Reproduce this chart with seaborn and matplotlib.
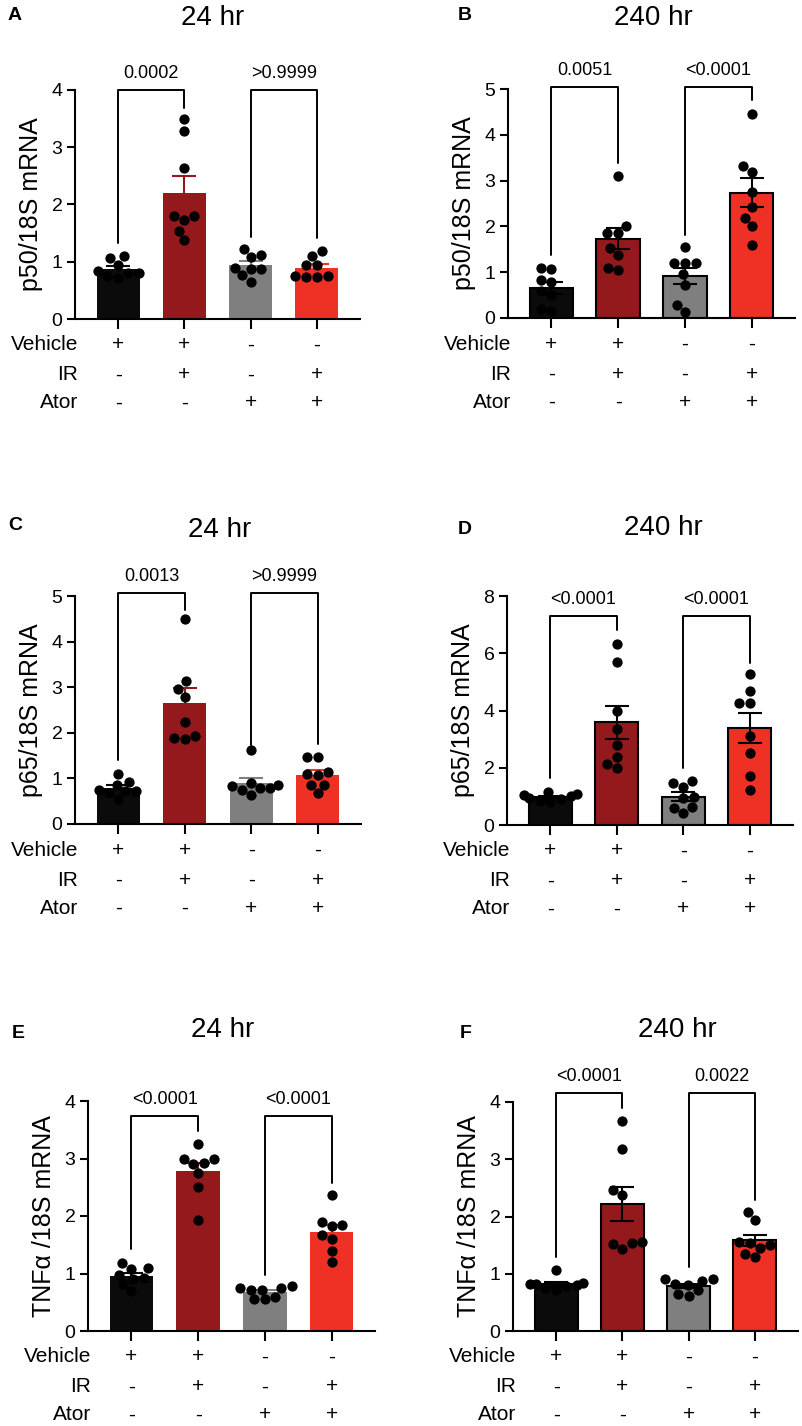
import numpy as np
import pandas as pd
import seaborn as sns
import matplotlib.pyplot as plt
import matplotlib.transforms as mtransforms

sns.set_style('ticks')
plt.rcParams['font.family'] = ['Liberation Sans', 'DejaVu Sans']
plt.rcParams['text.color'] = 'black'
plt.rcParams['axes.labelcolor'] = 'black'
plt.rcParams['axes.edgecolor'] = 'black'
plt.rcParams['xtick.color'] = 'black'
plt.rcParams['ytick.color'] = 'black'

# groups and table of treatments
groups = ['Vehicle', 'Vehicle+IR', 'Ator', 'Ator+IR']
colors = ['#0b0b0b', '#94191d', '#7f7f7f', '#ee3124']
row_names = ['Vehicle', 'IR', 'Ator']
vehicle_row = ['+', '+', '-', '-']
ir_row = ['-', '+', '-', '+']
ator_row = ['-', '-', '+', '+']

# values (8 animals per group)
p50_24 = [[1.06, 1.10, 0.80, 0.72, 0.95, 0.83, 0.80, 0.75],
          [3.49, 3.29, 2.63, 1.80, 1.80, 1.73, 1.54, 1.38],
          [1.23, 1.09, 1.11, 0.88, 0.88, 0.89, 0.76, 0.65],
          [1.18, 1.10, 0.94, 0.94, 0.73, 0.75, 0.75, 0.73]]
p50_240 = [[1.08, 1.10, 0.82, 0.78, 0.58, 0.50, 0.20, 0.15],
           [3.10, 2.00, 1.85, 1.85, 1.53, 1.38, 1.05, 1.09],
           [1.55, 1.21, 1.21, 1.21, 0.95, 0.73, 0.29, 0.13],
           [4.45, 3.31, 3.18, 2.76, 2.43, 2.18, 2.01, 1.60]]
p65_24 = [[1.10, 0.93, 0.86, 0.75, 0.72, 0.72, 0.68, 0.55],
          [4.49, 3.13, 2.97, 2.79, 2.24, 1.94, 1.86, 1.88],
          [1.62, 0.90, 0.85, 0.83, 0.79, 0.78, 0.75, 0.64],
          [1.46, 1.47, 1.15, 1.08, 1.10, 0.86, 0.85, 0.68]]
p65_240 = [[1.10, 1.15, 1.05, 1.00, 0.95, 0.90, 0.85, 0.80],
           [6.34, 5.70, 3.98, 3.37, 2.79, 2.38, 2.13, 1.98],
           [1.55, 1.45, 1.34, 0.99, 0.95, 0.64, 0.41, 0.60],
           [5.26, 4.67, 4.27, 4.27, 3.10, 2.53, 1.72, 1.24]]
tnf_24 = [[1.18, 1.09, 1.08, 0.98, 0.93, 0.90, 0.82, 0.70],
          [3.26, 2.91, 3.00, 2.93, 3.00, 2.75, 2.51, 1.93],
          [0.78, 0.75, 0.75, 0.72, 0.72, 0.60, 0.55, 0.55],
          [2.36, 1.90, 1.84, 1.83, 1.67, 1.60, 1.39, 1.20]]
tnf_240 = [[1.07, 0.83, 0.82, 0.82, 0.80, 0.78, 0.75, 0.72],
           [3.67, 3.18, 2.47, 2.37, 1.55, 1.53, 1.52, 1.44],
           [0.90, 0.90, 0.88, 0.82, 0.80, 0.72, 0.65, 0.62],
           [2.08, 1.94, 1.53, 1.55, 1.50, 1.45, 1.35, 1.29]]

# p values and bracket heights (top, left leg end, right leg end)
pvals = [['0.0002', '>0.9999'], ['0.0051', '<0.0001'],
         ['0.0013', '>0.9999'], ['<0.0001', '<0.0001'],
         ['<0.0001', '<0.0001'], ['<0.0001', '0.0022']]
bracket_tops = [4.0, 5.05, 5.07, 7.29, 3.74, 4.15]
bracket_legs = [[(1.32, 3.69), (1.43, 1.41)],
                [(1.38, 3.38), (1.82, 4.76)],
                [(1.41, 4.69), (1.73, 1.75)],
                [(1.63, 6.80), (2.00, 5.67)],
                [(1.42, 3.48), (0.98, 2.58)],
                [(1.29, 3.90), (1.12, 2.28)]]

W, H = 802, 1426
panels = [
    dict(vals=p50_24, ylabel='p50/18S mRNA', title='24 hr', letter='A', ymax=4, step=1,
         outlined=False, box=(75, 90, 360, 319), title_xy=(213, 18), letter_xy=(15, 15)),
    dict(vals=p50_240, ylabel='p50/18S mRNA', title='240 hr', letter='B', ymax=5, step=1,
         outlined=True, box=(508, 89, 795, 318), title_xy=(653, 18), letter_xy=(465, 15)),
    dict(vals=p65_24, ylabel='p65/18S mRNA', title='24 hr', letter='C', ymax=5, step=1,
         outlined=False, box=(75, 596, 361, 824), title_xy=(220, 530), letter_xy=(15, 525)),
    dict(vals=p65_240, ylabel='p65/18S mRNA', title='240 hr', letter='D', ymax=8, step=2,
         outlined=True, box=(507, 596, 793, 825), title_xy=(663, 528), letter_xy=(465, 530)),
    dict(vals=tnf_24, ylabel='TNFα /18S mRNA', title='24 hr', letter='E', ymax=4, step=1,
         outlined=False, box=(88, 1101, 375, 1331), title_xy=(223, 1030), letter_xy=(18, 1033)),
    dict(vals=tnf_240, ylabel='TNFα /18S mRNA', title='240 hr', letter='F', ymax=4, step=1,
         outlined=True, box=(513, 1102, 798, 1331), title_xy=(677, 1030), letter_xy=(466, 1033)),
]

fig = plt.figure(figsize=(W / 100, H / 100), dpi=100)
fig.patch.set_facecolor('white')

for k, p in enumerate(panels):
    l, t, r, b = p['box']
    ax = fig.add_axes([l / W, 1 - b / H, (r - l) / W, (b - t) / H])
    df = pd.DataFrame({'group': np.repeat(groups, 8),
                       'value': np.concatenate(p['vals'])})

    sns.barplot(data=df, x='group', y='value', hue='group', palette=colors,
                errorbar=None, width=0.65, saturation=1, legend=False,
                edgecolor='black' if p['outlined'] else 'none',
                linewidth=1.5 if p['outlined'] else 0, ax=ax, zorder=2)

    stats = df.groupby('group', sort=False)['value'].agg(['mean', 'sem'])
    for i, g in enumerate(groups):
        ax.errorbar(i, stats.loc[g, 'mean'], yerr=stats.loc[g, 'sem'], fmt='none',
                    ecolor='black' if p['outlined'] else colors[i],
                    elinewidth=1.5, capsize=8.5, capthick=1.5, zorder=3)

    sns.swarmplot(data=df, x='group', y='value', color='black', size=7.4,
                  ax=ax, zorder=4)

    ax.set_xlim(-0.65, 3.65)
    ax.set_ylim(0, p['ymax'])
    ax.set_yticks(np.arange(0, p['ymax'] + 0.01, p['step']))
    ax.set_xticklabels([])
    ax.set_xlabel('')
    ax.set_ylabel(p['ylabel'], fontsize=18, labelpad=6)
    sns.despine(ax=ax)
    for s in ['left', 'bottom']:
        ax.spines[s].set_linewidth(1.5)
    ax.tick_params(axis='y', labelsize=14, length=6, width=1.5, pad=3)
    ax.tick_params(axis='x', length=7, width=1.5)

    # significance brackets
    top = bracket_tops[k]
    for j, (x0, x1) in enumerate([(0, 1), (2, 3)]):
        y0, y1 = bracket_legs[k][j]
        ax.plot([x0, x0, x1, x1], [y0, top, top, y1], color='black', lw=1.4,
                clip_on=False, zorder=5)
        ax.annotate(pvals[k][j], xy=((x0 + x1) / 2, top), xytext=(0, 12),
                    textcoords='offset points', ha='center', va='center',
                    fontsize=13, annotation_clip=False)

    # treatment table under the x axis
    base = mtransforms.blended_transform_factory(ax.transData, ax.transAxes)
    lab_base = mtransforms.blended_transform_factory(ax.transAxes, ax.transAxes)
    for rname, signs, off in zip(row_names, [vehicle_row, ir_row, ator_row], [26, 56, 84]):
        tr = mtransforms.offset_copy(base, fig=fig, y=-off, units='dots')
        tl = mtransforms.offset_copy(lab_base, fig=fig, x=3, y=-off, units='dots')
        ax.text(0, 0, rname, transform=tl, ha='right', va='center', fontsize=15)
        for i, s in enumerate(signs):
            ax.text(i, 0, s, transform=tr, ha='center', va='center', fontsize=15)

    fig.text(p['title_xy'][0] / W, 1 - p['title_xy'][1] / H, p['title'],
             ha='center', va='center', fontsize=20)
    fig.text(p['letter_xy'][0] / W, 1 - p['letter_xy'][1] / H, p['letter'],
             ha='center', va='center', fontsize=14, fontweight='bold')

fig.savefig('out.png', dpi=100, facecolor='white')
